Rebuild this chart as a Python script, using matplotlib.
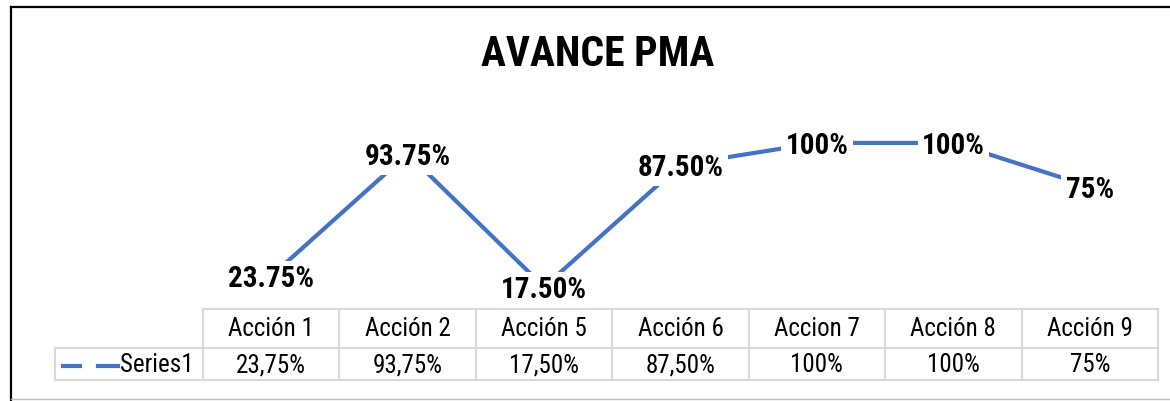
import numpy as np
import matplotlib
matplotlib.use("Agg")
import matplotlib.pyplot as plt
from matplotlib.lines import Line2D
import matplotlib.transforms as mtrans

categories = ["Acción 1", "Acción 2", "Acción 5", "Acción 6", "Accion 7", "Acción 8", "Acción 9"]
values = [23.75, 93.75, 17.50, 87.50, 100, 100, 75]
point_labels = ["23.75%", "93.75%", "17.50%", "87.50%", "100%", "100%", "75%"]
table_labels = ["23,75%", "93,75%", "17,50%", "87,50%", "100%", "100%", "75%"]
series_name = "Series1"

W, H = 1170, 401
fam = ["Roboto Condensed", "DejaVu Sans"]
blue = "#4472C4"
grid = "#D9D9D9"

fig = plt.figure(figsize=(W / 100, H / 100), dpi=100)
fig.patch.set_facecolor("white")

def fx(px):
    return px / W

def fy(py):
    return 1 - py / H

# outer frame (left + top black, bottom grey)
fig.add_artist(Line2D([fx(11), fx(11)], [fy(7), fy(400)], color="black", lw=1.6))
fig.add_artist(Line2D([fx(11), fx(1170)], [fy(7), fy(7)], color="black", lw=1.6))
fig.add_artist(Line2D([fx(11), fx(1170)], [fy(399), fy(399)], color="#BFBFBF", lw=1))

fig.text(fx(598), fy(55), "AVANCE PMA", ha="center", va="center",
         fontsize=30, fontweight="bold", family=fam)

ax = fig.add_axes([fx(203), fy(307), fx(1158 - 203), fy(108) - fy(307)])
x = np.arange(len(categories))
ax.plot(x, values, color=blue, lw=3, solid_capstyle="butt", zorder=2)
ax.set_xlim(-0.5, len(categories) - 0.5)
ax.set_ylim(6, 120)
ax.axis("off")

# labels sit on the points, a touch low like excel does
shift = mtrans.offset_copy(ax.transData, fig=fig, x=0, y=-3, units="dots")
for xi, v, lab in zip(x, values, point_labels):
    ax.text(xi, v, lab, transform=shift, ha="center", va="center", fontsize=21,
            fontweight="bold", family=fam, zorder=3,
            bbox=dict(boxstyle="square,pad=0.15", fc="white", ec="none"))

# data table
tr = mtrans.blended_transform_factory(ax.transData, fig.transFigure)
top, mid, bot = fy(309), fy(348), fy(380)
lw = 1.5
edges = np.arange(len(categories) + 1) - 0.5
for e in edges:
    ax.add_line(Line2D([e, e], [top, bot], transform=tr, color=grid, lw=lw, clip_on=False))
for yy in (top, mid, bot):
    ax.add_line(Line2D([edges[0], edges[-1]], [yy, yy], transform=tr, color=grid, lw=lw, clip_on=False))
for xi, c, t in zip(x, categories, table_labels):
    ax.text(xi, fy(329), c, transform=tr, ha="center", va="center", fontsize=18, family=fam)
    ax.text(xi, fy(365), t, transform=tr, ha="center", va="center", fontsize=18, family=fam)

# legend cell
fig.add_artist(Line2D([fx(55), fx(203)], [mid, mid], color=grid, lw=lw))
fig.add_artist(Line2D([fx(55), fx(203)], [bot, bot], color=grid, lw=lw))
fig.add_artist(Line2D([fx(55), fx(55)], [mid, bot], color=grid, lw=lw))
fig.add_artist(Line2D([fx(63), fx(80)], [fy(366), fy(366)], color=blue, lw=3))
fig.add_artist(Line2D([fx(98), fx(118)], [fy(366), fy(366)], color=blue, lw=3))
fig.text(fx(120), fy(365), series_name, ha="left", va="center", fontsize=18, family=fam)

fig.savefig("out.png", dpi=100)
